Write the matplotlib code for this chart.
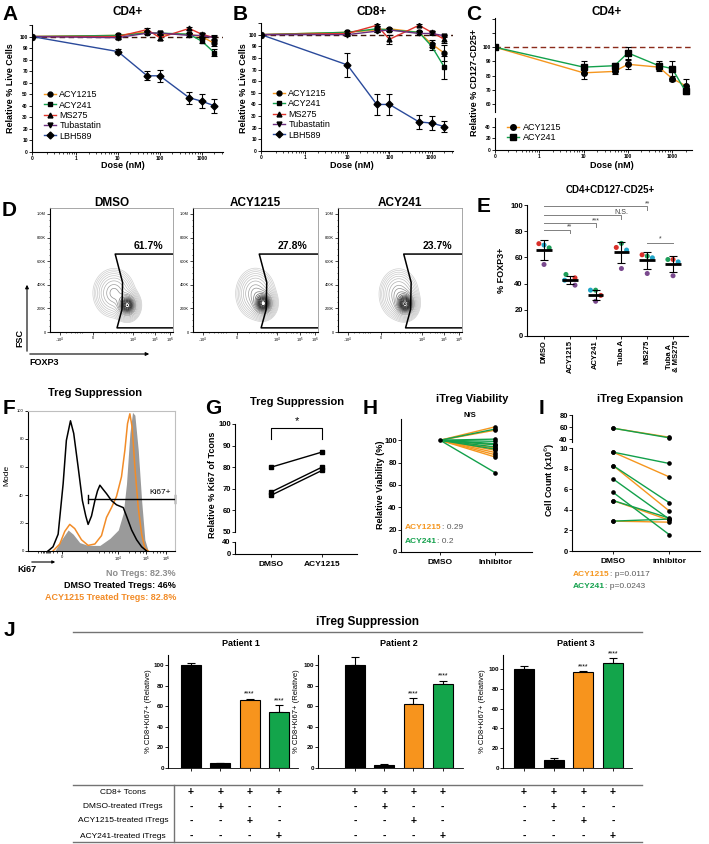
import numpy as np
import matplotlib.pyplot as plt
from matplotlib.lines import Line2D
from matplotlib.patches import FancyArrowPatch
from matplotlib.transforms import blended_transform_factory

W, H = 709, 844
plt.rcParams['font.family'] = ['Liberation Sans', 'DejaVu Sans']
plt.rcParams['axes.linewidth'] = 0.8

# ---------------- data ----------------
doses = np.array([0, 10, 50, 100, 500, 1000, 2000])
drugs = ['ACY1215', 'ACY241', 'MS275', 'Tubastatin', 'LBH589']
cd4_live = np.array([[100, 101, 104, 102, 102, 100, 94],
                     [100, 101, 103, 103, 102, 96, 86],
                     [100, 100, 106, 99, 107, 102, 99],
                     [100, 99, 103, 103, 101, 101, 99],
                     [100, 87, 66, 66, 47, 44, 40]])
cd4_err = np.array([[0, 1, 1, 1, 1, 1, 2],
                    [0, 1, 1, 1, 1, 2, 3],
                    [0, 1, 1, 2, 1, 1, 1],
                    [0, 1, 1, 1, 1, 1, 2],
                    [0, 2, 4, 5, 5, 6, 6]])
cd8_live = np.array([[100, 102, 104, 105, 102, 92, 84],
                     [100, 102, 105, 104, 102, 90, 72],
                     [100, 101, 108, 96, 108, 102, 96],
                     [100, 100, 103, 104, 101, 101, 99],
                     [100, 74, 40, 40, 25, 24, 21]])
cd8_err = np.array([[0, 1, 2, 1, 1, 3, 7],
                    [0, 1, 2, 1, 1, 3, 10],
                    [0, 1, 1, 4, 1, 1, 3],
                    [0, 1, 1, 1, 1, 1, 1],
                    [0, 10, 9, 9, 6, 6, 5]])

treg_acy1215 = [100, 82, 83, 88, 86, 78, 73]
treg_acy1215_err = [0, 4, 2, 3, 3, 2, 5]
treg_acy241 = [100, 86, 87, 96, 87, 85, 69]
treg_acy241_err = [0, 4, 2, 4, 3, 5, 2]

flow_titles = ['DMSO', 'ACY1215', 'ACY241']
flow_pct = ['61.7%', '27.8%', '23.7%']
# population shape: (x centre, y centre K, x spread, y spread K)
flow_cloud = [(0.52, 330, 0.07, 85), (0.50, 325, 0.065, 88), (0.49, 320, 0.065, 88)]
flow_core = [(0.63, 225, 0.04, 50), (0.565, 240, 0.04, 50), (0.545, 235, 0.04, 50)]
gate_x = [1.0, 0.53, 0.59, 0.585, 0.545, 1.0]
gate_y = [660, 660, 420, 190, 35, 35]

e_groups = ['DMSO', 'ACY1215', 'ACY241', 'Tuba A', 'MS275', 'Tuba A\n& MS275']
e_red = [70.5, 44.4, 31, 67.6, 62, 58.4]
e_cyan = [69.4, 42.6, 35, 65.6, 59.7, 56.6]
e_green = [67.3, 47, 35, 70.7, 61, 58.4]
e_purple = [54.6, 38.8, 26.5, 51.5, 47.7, 46]
e_mean = [65.5, 43, 31.6, 63.8, 58, 55]
e_sd = [7.5, 3, 3.8, 8.3, 6.5, 5.8]
e_sig = [(0, 4, 99, '**'), (0, 3, 92, 'N.S.'), (0, 2, 86, '***'), (0, 1, 81, '**')]
e_sig_pair = (4, 5, 71, '*')

ki67_x_dmso = [0.136, 0.170, 0.205, 0.239, 0.261, 0.289, 0.311, 0.341, 0.370, 0.393, 0.409, 0.432,
               0.455, 0.473, 0.489, 0.511, 0.534, 0.568, 0.602, 0.648, 0.670, 0.705, 0.739, 0.773, 0.807]
ki67_y_dmso = [0, 3, 12, 48, 79, 93, 84, 60, 36, 25, 19, 25, 36, 43, 47, 44, 41, 36, 33, 31, 25, 15, 8, 3, 0]
ki67_x_acy = [0.170, 0.216, 0.250, 0.284, 0.318, 0.364, 0.409, 0.455, 0.500, 0.534, 0.568, 0.602,
              0.636, 0.659, 0.677, 0.693, 0.709, 0.727, 0.750, 0.773, 0.795, 0.818]
ki67_y_acy = [0, 5, 14, 19, 16, 8, 4, 5, 11, 24, 31, 39, 53, 72, 91, 98, 88, 60, 31, 12, 2, 0]
ki67_x_none = [0.182, 0.227, 0.273, 0.307, 0.352, 0.409, 0.489, 0.557, 0.614, 0.648, 0.670, 0.693,
               0.711, 0.727, 0.750, 0.773, 0.795, 0.818]
ki67_y_none = [0, 8, 15, 12, 6, 4, 4, 9, 15, 27, 48, 84, 99, 97, 72, 36, 8, 0]

g_dmso = [80, 68.5, 67]
g_acy1215 = [87, 80, 78.5]

h_acy1215 = [112, 109, 96, 93, 91, 89, 87, 85]
h_acy241 = [110, 101, 99, 97, 96, 94, 92, 71]

i_acy1215_dmso = [58, 9.6, 8.3, 4.9, 2.9]
i_acy1215_inh = [43, 7.2, 3.9, 3.0, 2.8]
i_acy241_dmso = [58, 9.6, 8.3, 7.0, 5.7, 4.9, 2.9]
i_acy241_inh = [42, 8.5, 4.7, 3.1, 1.6, 3.2, 3.1]

patients = ['Patient 1', 'Patient 2', 'Patient 3']
supp_vals = [[100, 4.5, 66, 55], [100, 3, 62, 82], [100, 8.5, 97, 106]]
supp_err = [[2, 0.5, 1.5, 6], [8, 0.5, 6, 3], [2.5, 2, 0.8, 5]]
supp_sig = [['', '', '****', '****'], ['', '', '****', '****'], ['', '', '****', '****']]
table_rows = ['CD8+ Tcons', 'DMSO-treated iTregs', 'ACY1215-treated iTregs', 'ACY241-treated iTregs']
table_signs = [['+', '+', '+', '+'], ['-', '+', '-', '-'], ['-', '-', '+', '-'], ['-', '-', '-', '+']]

ORANGE = '#F5961E'
GREEN = '#12A04B'
drug_colors = [ORANGE, GREEN, '#E0342B', '#6B2E7E', '#2A4A9B']
drug_markers = ['o', 's', '^', 'v', 'D']
donor_colors = ['#D9302A', '#22A6C8', '#1E9E5A', '#7A4A8E']

fig = plt.figure(figsize=(W / 100, H / 100), dpi=100)


def box(x0, y0, x1, y1):
    return fig.add_axes([x0 / W, 1 - y1 / H, (x1 - x0) / W, (y1 - y0) / H])


def ftext(x, y, s, **kw):
    kw.setdefault('ha', 'center')
    kw.setdefault('va', 'center')
    return fig.text(x / W, 1 - y / H, s, **kw)


def fline(xs, ys, **kw):
    fig.add_artist(Line2D([x / W for x in xs], [1 - y / H for y in ys], **kw))


def farrow(p0, p1, scale=5):
    fig.add_artist(FancyArrowPatch((p0[0] / W, 1 - p0[1] / H), (p1[0] / W, 1 - p1[1] / H),
                                   arrowstyle='-|>', mutation_scale=scale, lw=0.8, color='k'))


def clean(ax, size=3.5, bold=False, length=2):
    ax.spines['top'].set_visible(False)
    ax.spines['right'].set_visible(False)
    ax.tick_params(labelsize=size, length=length, width=0.6, pad=1)
    if bold:
        for lab in ax.get_xticklabels() + ax.get_yticklabels():
            lab.set_fontweight('bold')


# panel letters
for letter, x, y in [('A', 10, 14), ('B', 240, 14), ('C', 474, 14), ('D', 9, 210), ('E', 484, 207),
                     ('F', 9, 408), ('G', 213, 408), ('H', 370, 408), ('I', 542, 408), ('J', 9, 630)]:
    ftext(x, y, letter, fontsize=15, fontweight='bold')


# ---------------- A / B: viability dose response ----------------
def dose_panel(rect, vals, errs, title, tx, ylabel_x):
    ax = box(*rect)
    xd = np.where(doses == 0, 0.09, doses)
    ax.axhline(100, color='#3b1408', ls=(0, (4, 2.5)), lw=1, zorder=1)
    for i, name in enumerate(drugs):
        ax.errorbar(xd, vals[i], yerr=errs[i], fmt='none', ecolor='k', elinewidth=0.8,
                    capsize=2.5, capthick=0.8, zorder=3)
        ax.plot(xd, vals[i], color=drug_colors[i], lw=1, marker=drug_markers[i], ms=3.5,
                mfc='k', mec='k', label=name, zorder=4)
    ax.set_xscale('log')
    ax.set_xlim(0.09, 3200)
    ax.set_xticks([0.09, 1, 10, 100, 1000], ['0', '1', '10', '100', '1000'])
    ax.set_ylim(0, 110)
    ax.set_yticks(range(0, 111, 10), [str(v) for v in range(0, 101, 10)] + [''])
    clean(ax, bold=True)
    ax.tick_params(which='minor', length=1.2, width=0.5)
    ax.legend(loc='lower left', bbox_to_anchor=(0.03, 0.04), frameon=False, fontsize=6.5,
              handlelength=1.3, labelspacing=0.15, handletextpad=0.4, borderpad=0.2)
    ftext(tx, 12, title, fontsize=8.5, fontweight='bold')
    ftext((rect[0] + rect[2]) / 2 - 5, 166, 'Dose (nM)', fontsize=6.5, fontweight='bold')
    ftext(ylabel_x, 88, 'Relative % Live Cells', fontsize=6.5, fontweight='bold', rotation=90)
    return ax


dose_panel((32, 25, 223, 152), cd4_live, cd4_err, 'CD4+', 128, 11)
dose_panel((261, 23, 453, 151), cd8_live, cd8_err, 'CD8+', 372, 243)

# ---------------- C: Treg fraction, broken axis ----------------
cx = np.where(doses == 0, 0.1, doses)
c_up = box(495, 18, 692, 112)
c_lo = box(495, 118, 692, 150)
c_up.axhline(100, color='#8B2B1B', ls=(0, (4, 2.5)), lw=1, zorder=1)
handles = []
for vals, errs, col, mk, name in [(treg_acy1215, treg_acy1215_err, ORANGE, 'o', 'ACY1215'),
                                  (treg_acy241, treg_acy241_err, GREEN, 's', 'ACY241')]:
    c_up.errorbar(cx, vals, yerr=errs, fmt='none', ecolor='k', elinewidth=0.8, capsize=2.5,
                  capthick=0.8, zorder=3)
    h, = c_up.plot(cx, vals, color=col, lw=1, marker=mk, ms=4, mfc='k', mec='k', label=name, zorder=4)
    handles.append(h)
for a in (c_up, c_lo):
    a.set_xscale('log')
    a.set_xlim(0.1, 2800)
c_up.set_ylim(54.5, 120.5)
c_up.set_yticks(range(60, 121, 10), ['60', '70', '80', '90', '100', '', ''])
c_up.spines['bottom'].set_visible(False)
c_up.tick_params(axis='x', which='both', bottom=False, labelbottom=False)
clean(c_up, bold=True)
c_lo.set_ylim(0, 55)
c_lo.set_yticks([0, 20, 40])
c_lo.set_xticks([0.1, 1, 10, 100, 1000], ['0', '1', '10', '100', '1000'])
clean(c_lo, bold=True)
c_lo.tick_params(which='minor', length=1.2, width=0.5)
c_lo.legend(handles=handles, loc='lower left', bbox_to_anchor=(0.03, 0.05), frameon=False,
            fontsize=6.5, handlelength=1.3, labelspacing=0.15, handletextpad=0.4, borderpad=0.2)
ftext(607, 12, 'CD4+', fontsize=8.5, fontweight='bold')
ftext(612, 166, 'Dose (nM)', fontsize=6.5, fontweight='bold')
ftext(475, 82, 'Relative % CD127-CD25+', fontsize=6.5, fontweight='bold', rotation=90)

# ---------------- D: FOXP3 flow plots ----------------
gx, gy = np.meshgrid(np.linspace(0, 1, 300), np.linspace(0, 1050, 300))
d_rects = [(50, 208, 173, 332), (193, 208, 318, 332), (338, 208, 462, 332)]
d_levels = np.concatenate([np.geomspace(0.05, 0.7, 8), np.linspace(0.9, 3.6, 11)])
for k, rect in enumerate(d_rects):
    ax = box(*rect)
    (ax0, ay0, sx0, sy0), (ax1, ay1, sx1, sy1) = flow_cloud[k], flow_core[k]
    z = (np.exp(-((gx - ax0) / sx0) ** 2 / 2 - ((gy - ay0) / sy0) ** 2 / 2)
         + 3.2 * np.exp(-((gx - ax1) / sx1) ** 2 / 2 - ((gy - ay1) / sy1) ** 2 / 2))
    ax.contour(gx, gy, z, levels=d_levels, cmap='Greys', norm=plt.Normalize(-1.0, 2.6),
               linewidths=0.5)
    ax.plot(gate_x, gate_y, color='k', lw=1.1)
    ax.text(0.8, 685, flow_pct[k], fontsize=7.5, fontweight='bold', ha='center', va='bottom')
    ax.set_xlim(0, 1)
    ax.set_ylim(0, 1050)
    ax.set_yticks([0, 200, 400, 600, 800, 1000], ['0', '200K', '400K', '600K', '800K', '1.0M'])
    ax.set_xticks([0.08, 0.35, 0.675, 0.855, 0.975],
                  ['-10$^4$', '0', '10$^4$', '10$^5$', '10$^6$'])
    ax.set_xticks([0.13, 0.17, 0.2, 0.22, 0.24, 0.26, 0.45, 0.5, 0.54, 0.57, 0.6, 0.62, 0.64, 0.66,
                   0.74, 0.78, 0.8, 0.82, 0.835, 0.9, 0.93, 0.945, 0.96], minor=True)
    ax.set_yticks(range(0, 1050, 50), minor=True)
    ax.tick_params(labelsize=2.8, length=2, width=0.5, pad=1)
    ax.tick_params(which='minor', length=1, width=0.4)
    for s in ['top', 'right']:
        ax.spines[s].set_color('0.6')
        ax.spines[s].set_linewidth(0.6)
    ftext((rect[0] + rect[2]) / 2, 203, flow_titles[k], fontsize=8.5, fontweight='bold')
farrow((27, 354), (27, 282))
farrow((27, 354), (152, 354))
ftext(20, 338, 'FSC', fontsize=6.5, fontweight='bold', rotation=90)
ftext(29, 362, 'FOXP3', fontsize=6.5, fontweight='bold', ha='left')

# ---------------- E: FOXP3 dot plot ----------------
ax = box(527, 205, 688, 336)
pos = np.arange(len(e_groups))
offs = [[-0.2, 0.0, 0.2, 0.0], [0.2, -0.2, -0.15, 0.2], [0.2, -0.2, 0.0, 0.0],
        [-0.2, 0.2, 0.0, 0.0], [-0.2, 0.2, 0.0, 0.0], [0.0, 0.2, -0.2, 0.0]]
for j, vals in enumerate([e_red, e_cyan, e_green, e_purple]):
    ax.scatter(pos + np.array([o[j] for o in offs]), vals, s=13, color=donor_colors[j], zorder=3,
               edgecolors='none')
ax.errorbar(pos, e_mean, yerr=e_sd, fmt='none', ecolor='k', elinewidth=0.8, capsize=3, capthick=0.8, zorder=4)
ax.hlines(e_mean, pos - 0.3, pos + 0.3, color='k', lw=2, zorder=5)
for a, b, y, lab in e_sig:
    ax.plot([a, b, b], [y, y, y - 2.5], color='0.5', lw=0.7, clip_on=False)
    ax.text(b, y - 0.5, lab, fontsize=5, ha='center', va='bottom', color='0.25')
a, b, y, lab = e_sig_pair
ax.plot([a, b], [y, y], color='0.5', lw=0.7)
ax.text((a + b) / 2, y + 0.5, lab, fontsize=5, ha='center', va='bottom', color='0.25')
ax.set_xlim(-0.66, 5.58)
ax.set_ylim(0, 100)
ax.set_yticks(range(0, 101, 20))
ax.set_xticks(pos, e_groups, rotation=90, linespacing=0.95)
clean(ax, size=5.5, bold=True)
ax.tick_params(axis='x', labelsize=5.5)
ftext(610, 190, 'CD4+CD127-CD25+', fontsize=7, fontweight='bold')
ftext(502, 270, '% FOXP3+', fontsize=6.5, fontweight='bold', rotation=90)

# ---------------- F: Ki67 histogram ----------------
ax = box(28, 411, 175, 551)
ax.fill_between(ki67_x_none, ki67_y_none, color='#9a9a9a', lw=0)
ax.plot(ki67_x_acy, ki67_y_acy, color='#F28C28', lw=1.1)
ax.plot(ki67_x_dmso, ki67_y_dmso, color='k', lw=1.1)
ax.plot([0.41, 1.0], [37, 37], color='k', lw=1)
ax.plot([0.41, 0.41], [34, 40], color='k', lw=1)
ax.plot([1.0, 1.0], [34, 40], color='k', lw=1, clip_on=False)
ax.text(0.97, 39, 'Ki67+', fontsize=6, ha='right', va='bottom')
ax.set_xlim(0, 1)
ax.set_ylim(0, 100)
ax.set_yticks(range(0, 101, 20))
ax.set_xticks([0.23, 0.61, 0.8, 0.94], ['0', '10$^4$', '10$^5$', '10$^6$'])
ax.set_xticks([0.07, 0.09, 0.1, 0.11, 0.12, 0.13, 0.135, 0.14, 0.15, 0.17, 0.2, 0.4, 0.48, 0.52,
               0.55, 0.57, 0.59, 0.69, 0.73, 0.76, 0.78, 0.85, 0.88, 0.9, 0.92], minor=True)
clean(ax, size=3)
ax.tick_params(which='minor', length=1.5, width=0.5)
ax.spines['right'].set_visible(True)
ax.spines['top'].set_visible(True)
ax.spines['right'].set_color('0.75')
ax.spines['top'].set_color('0.75')
ftext(7, 475, 'Mode', fontsize=6, rotation=90)
ftext(95, 393, 'Treg Suppression', fontsize=8, fontweight='bold')
farrow((29, 562), (58, 562), scale=4)
ftext(17, 569, 'Ki67', fontsize=6.5, fontweight='bold', ha='left')
ftext(176, 573, 'No Tregs: 82.3%', fontsize=6.5, fontweight='bold', color='#8c8c8c', ha='right')
ftext(176, 585, 'DMSO Treated Tregs: 46%', fontsize=6.5, fontweight='bold', ha='right')
ftext(176, 597, 'ACY1215 Treated Tregs: 82.8%', fontsize=6.5, fontweight='bold', color='#F28C28', ha='right')

# ---------------- G: Treg suppression paired ----------------
g_up = box(235, 424, 357, 532)
g_lo = box(235, 542, 357, 554)
for d, a in zip(g_dmso, g_acy1215):
    g_up.plot([0, 1], [d, a], color='k', lw=1, marker='s', ms=2.8)
g_up.plot([0, 0, 1, 1], [93, 98, 98, 93], color='k', lw=0.8, clip_on=False)
g_up.text(0.5, 99, '*', fontsize=8, ha='center', va='bottom')
for a in (g_up, g_lo):
    a.set_xlim(-0.71, 1.69)
g_up.set_ylim(50, 100)
g_up.set_yticks(range(50, 101, 10))
g_up.spines['bottom'].set_visible(False)
g_up.tick_params(axis='x', bottom=False, labelbottom=False)
clean(g_up, size=5.5, bold=True)
g_lo.set_ylim(0, 40)
g_lo.set_yticks([0, 40])
g_lo.set_xticks([0, 1], ['DMSO', 'ACY1215'])
clean(g_lo, size=5.5, bold=True)
g_lo.tick_params(axis='x', labelsize=6, pad=3)
ftext(297, 402, 'Treg Suppression', fontsize=8, fontweight='bold')
ftext(213, 485, 'Relative % Ki67 of Tcons', fontsize=6.5, fontweight='bold', rotation=90)

# ---------------- H: iTreg viability ----------------
ax = box(401, 419, 532, 552)
for vals, col in [(h_acy1215, ORANGE), (h_acy241, GREEN)]:
    for v in vals:
        ax.plot([0, 1], [100, v], color=col, lw=1, zorder=2)
        ax.plot([1], [v], 'o', color='k', ms=2.3, zorder=3)
ax.plot([0], [100], 'o', color='k', ms=2.3, zorder=3)
ax.set_xlim(-0.71, 1.67)
ax.set_ylim(0, 119)
ax.set_yticks(range(0, 101, 20))
ax.set_xticks([0, 1], ['DMSO', 'Inhibitor'])
clean(ax, size=5.5, bold=True)
ax.tick_params(axis='x', labelsize=6, pad=3)
ax.text(0.55, 122, 'N/S', fontsize=5.5, fontweight='bold', ha='center', va='center', clip_on=False)
t1 = ax.text(0.03, 0.17, 'ACY1215', transform=ax.transAxes, fontsize=6, fontweight='bold', color=ORANGE)
ax.annotate(': 0.29', xy=(1, 0), xycoords=t1, va='bottom', fontsize=6, color='0.35')
t2 = ax.text(0.03, 0.07, 'ACY241', transform=ax.transAxes, fontsize=6, fontweight='bold', color=GREEN)
ax.annotate(': 0.2', xy=(1, 0), xycoords=t2, va='bottom', fontsize=6, color='0.35')
ftext(472, 399, 'iTreg Viability', fontsize=8, fontweight='bold')
ftext(380, 485, 'Relative Viability (%)', fontsize=6.5, fontweight='bold', rotation=90)

# ---------------- I: iTreg expansion ----------------
i_up = box(572, 415, 700, 442)
i_lo = box(572, 448, 700, 551)
for d0, d1, col in [(i_acy1215_dmso, i_acy1215_inh, ORANGE), (i_acy241_dmso, i_acy241_inh, GREEN)]:
    for a, b in zip(d0, d1):
        target = i_up if a > 20 else i_lo
        target.plot([0, 1], [a, b], color=col, lw=1, marker='o', ms=2.3, mfc='k', mec='k')
for a in (i_up, i_lo):
    a.set_xlim(-0.73, 1.55)
i_up.set_ylim(35, 80)
i_up.set_yticks([40, 60, 80])
i_up.spines['bottom'].set_visible(False)
i_up.tick_params(axis='x', bottom=False, labelbottom=False)
clean(i_up, size=5.5, bold=True)
i_lo.set_ylim(0, 10)
i_lo.set_yticks(range(0, 11, 2))
i_lo.set_xticks([0, 1], ['DMSO', 'Inhibitor'])
clean(i_lo, size=5.5, bold=True)
i_lo.tick_params(axis='x', labelsize=6, pad=3)
ftext(640, 399, 'iTreg Expansion', fontsize=8, fontweight='bold')
ftext(550, 480, 'Cell Count (x10$^6$)', fontsize=6.5, fontweight='bold', rotation=90)
t3 = ftext(573, 575, 'ACY1215', fontsize=6, fontweight='bold', color=ORANGE, ha='left')
i_lo.annotate(': p=0.0117', xy=(1, 0), xycoords=t3, va='bottom', fontsize=6, color='0.35')
t4 = ftext(573, 586, 'ACY241', fontsize=6, fontweight='bold', color=GREEN, ha='left')
i_lo.annotate(': p=0.0243', xy=(1, 0), xycoords=t4, va='bottom', fontsize=6, color='0.35')

# ---------------- J: iTreg suppression bars + table ----------------
ftext(368, 622, 'iTreg Suppression', fontsize=8.5, fontweight='bold')
fline([73, 642], [632, 632], color='0.45', lw=1)
j_rects = [(168, 655, 298, 768), (318, 655, 463, 768), (503, 655, 632, 768)]
j_xlims = [(-0.78, 3.65), (-1.26, 3.69), (-0.71, 3.64)]
j_ylims = [110, 110, 114]
j_ylab_x = [148, 297, 482]
bar_colors = ['k', 'k', '#F7941D', '#13A54B']
row_y = [792, 807, 821, 836]
for p in range(3):
    ax = box(*j_rects[p])
    x = np.arange(4)
    ax.bar(x, supp_vals[p], width=0.68, color=bar_colors, edgecolor='k', lw=0.8, zorder=2)
    ax.errorbar(x, supp_vals[p], yerr=[np.zeros(4), supp_err[p]], fmt='none', ecolor='k',
                elinewidth=0.8, capsize=3, capthick=0.8, zorder=1)
    for xi, v, e, s in zip(x, supp_vals[p], supp_err[p], supp_sig[p]):
        if s:
            ax.text(xi, v + e + 1, s, fontsize=5, ha='center', va='bottom')
    ax.set_xlim(*j_xlims[p])
    ax.set_ylim(0, j_ylims[p])
    ax.set_yticks(range(0, 101, 20))
    ax.set_xticks(x, [''] * 4)
    clean(ax, size=4.5, bold=True)
    ax.spines['bottom'].set_linewidth(0.6)
    ftext((j_rects[p][0] + j_rects[p][2]) / 2 + 8, 644, patients[p], fontsize=6.5, fontweight='bold')
    ftext(j_ylab_x[p], 711, '% CD8+Ki67+ (Relative)', fontsize=5.5, rotation=90)
    tr = blended_transform_factory(ax.transData, fig.transFigure)
    for r, yy in enumerate(row_y):
        for c in range(4):
            fig.text(c, 1 - yy / H, table_signs[r][c], transform=tr, fontsize=7.5, fontweight='bold',
                     ha='center', va='center')
for r, yy in enumerate(row_y):
    ftext(123, yy, table_rows[r], fontsize=6)
fline([73, 642], [785, 785], color='0.45', lw=1)
fline([73, 642], [842, 842], color='0.45', lw=1)
fline([174, 174], [785, 842], color='0.45', lw=1)

fig.savefig('out.png', dpi=100)
